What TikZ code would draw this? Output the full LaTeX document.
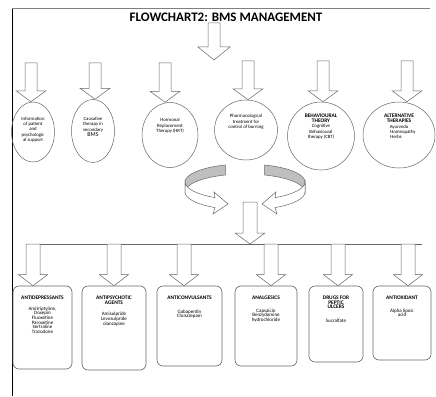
\documentclass[tikz,border=0pt]{standalone}
\usepackage{fontspec}
\setmainfont{Carlito}
\usetikzlibrary{shapes.geometric,calc}

\newcommand{\hd}[1]{{\fontsize{5.4}{5.6}\selectfont\bfseries #1}}
\newcommand{\blockarrow}[5]{%
  \draw[barrow] let \p1=(#1), \p2=(#2) in
  (\x1-#3pt,\y1) -- (\x1+#3pt,\y1) -- (\x1+#3pt,\y2+#5pt) -- (\x1+#4pt,\y2+#5pt)
  -- (\x1,\y2) -- (\x1-#4pt,\y2+#5pt) -- (\x1-#3pt,\y2+#5pt) -- cycle;}

\begin{document}
\begin{tikzpicture}[x=1pt,y=-1pt,
  barrow/.style={draw=black!60,line width=0.5pt,fill=white},
  circ/.style={ellipse,draw=black!60,line width=0.5pt,inner sep=0pt},
  drugbox/.style={rectangle,rounded corners=6pt,draw=black!60,line width=0.6pt,inner sep=0pt},
  etext/.style={align=center,inner sep=0pt,font=\fontsize{4.8}{5.3}\selectfont},
  btext/.style={align=center,inner sep=0pt,anchor=north,font=\fontsize{5}{4.7}\selectfont},
  ringback/.style={draw=black!60,line width=0.5pt,fill=black!25},
  ringfront/.style={draw=black!60,line width=0.5pt,fill=white}]
  \useasboundingbox (0,0) rectangle (436,396);

  %\draw[style=help lines] (0,0) grid (436,396);
  \draw[line width=0.8pt] (12,8) -- (12,396);
  \draw[black!50,line width=0.4pt] (12,8) -- (430,8);

  \node (title) at (226,17.5) [font=\fontsize{13}{13}\selectfont\bfseries] {FLOWCHART2: BMS MANAGEMENT};

  \node (e1) at (33,132)  [circ,minimum width=43pt,minimum height=60pt] {};
  \node (e2) at (93,131)  [circ,minimum width=43pt,minimum height=63pt] {};
  \node (e3) at (170,135) [circ,minimum width=56pt,minimum height=65pt] {};
  \node (e4) at (246,130) [circ,minimum width=63pt,minimum height=60pt] {};
  \node (e5) at (321,136) [circ,minimum width=67pt,minimum height=68pt] {};
  \node (e6) at (399,135) [circ,minimum width=72pt,minimum height=66pt] {};

  \node (t1) at (33,129.5) [etext] {Information\\of patient\\and\\psychologic\\al support};
  \node (t2) at (93,127)   [etext] {Causative\\therapy in\\secondary\\{\fontsize{6}{6}\selectfont BMS}};
  \node (t3) at (170,126)  [etext] {Hormonal\\Replacement\\Therapy (HRT)};
  \node (t4) at (246,122)  [etext] {Pharmacological\\treatment for\\control of burning};
  \node (t5) at (321,126.5) [etext] {\hd{BEHAVIOURAL}\\\hd{THEORY}\\Cognitive\\Behavioural\\therapy (CBT)};
  \node (t6) at (399,126.5) [etext] {\hd{ALTERNATIVE}\\\hd{THERAPIES}\\Ayurveda\hspace*{6pt}\\\hspace*{8pt}Homeopathy\\Herbs\hspace*{6pt}};

  \coordinate (top) at (214,23);
  \coordinate (split) at (214,60);
  \blockarrow{top}{split}{6}{16}{13}

  \coordinate (a1) at (31,63);
  \coordinate (a2) at (95,63);
  \coordinate (a3) at (165,63);
  \coordinate (a4) at (248,61);
  \coordinate (a5) at (323,61);
  \coordinate (a6) at (407,61);
  \foreach \i in {1,...,6}
    {\blockarrow{a\i}{e\i.north}{6}{15}{11}}

  % turning arrows
  \coordinate (ring) at (245,182);
  \coordinate (ringlow) at (245,192);
  \draw[ringback] ([shift={(251:60 and 18)}]ring) arc[start angle=251,end angle=180,x radius=60,y radius=18]
    -- ([shift={(180:60 and 18)}]ringlow) arc[start angle=180,end angle=251,x radius=60,y radius=18] -- cycle;
  \draw[ringback] ([shift={(289:60 and 18)}]ring) arc[start angle=289,end angle=360,x radius=60,y radius=18]
    -- ([shift={(0:60 and 18)}]ringlow) arc[start angle=360,end angle=289,x radius=60,y radius=18] -- cycle;
  \draw[ringfront] ([shift={(180:60 and 18)}]ring) arc[start angle=180,end angle=120,x radius=60,y radius=18]
    -- (214,192) -- (228,204) -- (213,214)
    -- ([shift={(120:60 and 18)}]ringlow) arc[start angle=120,end angle=180,x radius=60,y radius=18] -- cycle;
  \draw[ringfront] ([shift={(0:60 and 18)}]ring) arc[start angle=0,end angle=60,x radius=60,y radius=18]
    -- (276,192) -- (262,204) -- (277,214)
    -- ([shift={(60:60 and 18)}]ringlow) arc[start angle=60,end angle=0,x radius=60,y radius=18] -- cycle;

  \coordinate (merge) at (250,202);
  \coordinate (bar) at (250,244);
  \blockarrow{merge}{bar}{7}{15}{11}

  \coordinate (barl) at (26,244);
  \coordinate (barr) at (422,244);
  \draw[black!60,line width=0.6pt] (barl) -- (barr);

  \node (b1) at (42.5,327.5) [drugbox,minimum width=59pt,minimum height=83pt] {};
  \node (b2) at (114,328)    [drugbox,minimum width=64pt,minimum height=84pt] {};
  \node (b3) at (189.5,326)  [drugbox,minimum width=65pt,minimum height=80pt] {};
  \node (b4) at (266,326)    [drugbox,minimum width=62pt,minimum height=80pt] {};
  \node (b5) at (336,324)    [drugbox,minimum width=54pt,minimum height=76pt] {};
  \node (b6) at (402,323)    [drugbox,minimum width=58pt,minimum height=74pt] {};

  \coordinate (d1) at (33,244);
  \coordinate (d2) at (114,244);
  \coordinate (d3) at (184,244);
  \coordinate (d4) at (271,244);
  \coordinate (d5) at (338,244);
  \coordinate (d6) at (408,244);
  \foreach \i in {1,...,6}
    {\blockarrow{d\i}{b\i.north}{7}{14.5}{11}}

  \node (l1) at ([yshift=-10pt]b1.north) [btext] {\hd{ANTIDEPRESSANTS}\\[6pt]Amitriptyline,\\Doxepin\\Fluoxetine\\Paroxetine\\Sertraline\\Trazodone};
  \node (l2) at ([yshift=-10pt]b2.north) [btext] {\hd{ANTIPSYCHOTIC}\\\hd{AGENTS}\\[7pt]Amisulpride\\Levosulpride\\olanzapine};
  \node (l3) at ([yshift=-10pt]b3.north) [btext] {\hd{ANTICONVULSANTS}\\[9pt]Gabapentin\\Clonazepam};
  \node (l4) at ([yshift=-10pt]b4.north) [btext] {\hd{ANALGESICS}\\[8pt]Capsaicin\\Benzydamine\\hydrochloride};
  \node (l5) at ([yshift=-10pt]b5.north) [btext] {\hd{DRUGS FOR}\\\hd{PEPTIC}\\\hd{ULCERS}\\[9pt]Sucralfate};
  \node (l6) at ([yshift=-10pt]b6.north) [btext] {\hd{ANTIOXIDANT}\\[8pt]Alpha lipoic\\acid};
\end{tikzpicture}
\end{document}
